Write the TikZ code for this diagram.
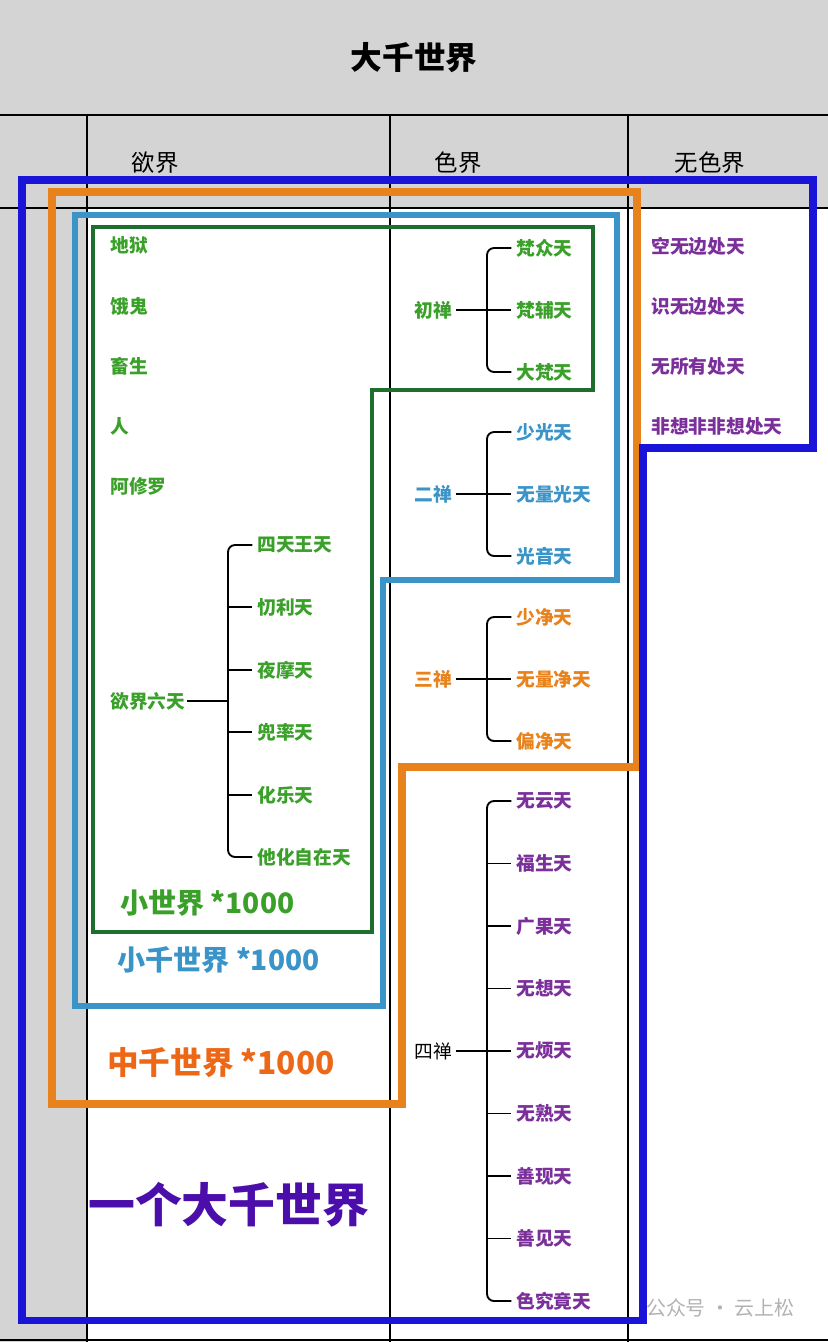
\documentclass[tikz,border=0pt]{standalone}
\usepackage{fontspec}
\setmainfont{Noto Sans CJK SC}
\usetikzlibrary{calc,positioning}
\definecolor{cgreen}{HTML}{3AA02A}
\definecolor{cdkgreen}{HTML}{1E6E2E}
\definecolor{clblue}{HTML}{3A94C8}
\definecolor{corange}{HTML}{E8821C}
\definecolor{cblue}{HTML}{1A14D8}
\definecolor{cpurple}{HTML}{7A2F9A}
\definecolor{cgrey}{HTML}{D4D4D4}
\begin{document}
\begin{tikzpicture}[x=0.3mm,y=-0.3mm,
  item/.style={anchor=west,inner sep=1pt,font=\bfseries\fontsize{16}{16}\selectfont},
  head/.style={font=\fontsize{20}{20}\selectfont},
  branch/.style={line width=1.6pt,rounded corners=6pt},
  stub/.style={line width=1.6pt},
  frame/.style={line join=miter},
  big/.style={anchor=west,font=\bfseries\fontsize{24}{24}\selectfont}]

  % table
  \useasboundingbox (0,0) rectangle (828,1342);
  \fill[cgrey] (0,0) rectangle (828,208);
  \fill[cgrey] (0,208) rectangle (87,1342);
  \draw[line width=1.2pt] (0,115) -- (828,115);
  \draw[line width=1.2pt] (0,208) -- (828,208);
  \draw[line width=1.2pt] (0,1340) -- (828,1340);
  \foreach \x in {87,390,628}
    \draw[line width=1.2pt] (\x,115) -- (\x,1342);
  \node[font=\bfseries\fontsize{27}{27}\selectfont] (title) at (414,58) {大千世界};
  \node[head] (hyu) at (155,163) {欲界};
  \node[head] (hse) at (458,163) {色界};
  \node[head] (hwu) at (710,163) {无色界};

  % 欲界
  \foreach \t/\y [count=\i] in {地狱/245,饿鬼/306,畜生/366,人/426,阿修罗/486}
    \node[item,text=cgreen] (y\i) at (109,\y) {\t};
  \node[item,text=cgreen] (yl) at (109,701) {欲界六天};
  \foreach \t/\y [count=\i] in {四天王天/545,忉利天/607,夜摩天/670,兜率天/732,化乐天/795,他化自在天/857}
    \node[item,text=cgreen] (ys\i) at (256,\y) {\t};
  \draw[branch] ([xshift=-3pt]ys1.west) -| (228,701) |- ([xshift=-3pt]ys6.west);
  \foreach \i in {2,...,5}
    \draw[stub] (228,0 |- ys\i.west) -- ([xshift=-3pt]ys\i.west);
  \draw[stub] (yl.east) -- (228,701);

  % 色界
  \foreach \g/\y/\c/\names in {a/310/cgreen/{梵众天,梵辅天,大梵天},
                               b/494/clblue/{少光天,无量光天,光音天},
                               c/679/corange/{少净天,无量净天,偏净天}}{
    \foreach \t [count=\i] in \names
      \node[item,text=\c] (\g\i) at (515,\y-124+62*\i) {\t};
    \draw[branch] ([xshift=-3pt]\g1.west) -| (487,\y) |- ([xshift=-3pt]\g3.west);
    \draw[stub] (487,\y) -- ([xshift=-3pt]\g2.west);
  }
  \node[item,text=cgreen] (pa) at (413,310) {初禅};
  \node[item,text=clblue] (pb) at (413,494) {二禅};
  \node[item,text=corange] (pc) at (413,679) {三禅};
  \foreach \p in {pa,pb,pc}
    \draw[stub] ([xshift=2pt]\p.east) -- (487,0 |- \p.east);
  \node[item,font=\fontsize{16}{16}\selectfont] (pd) at (413,1051) {四禅};
  \foreach \t [count=\i] in {无云天,福生天,广果天,无想天,无烦天,无熟天,善现天,善见天,色究竟天}
    \node[item,text=cpurple] (d\i) at (515,738.5+62.5*\i) {\t};
  \draw[branch] ([xshift=-3pt]d1.west) -| (487,1051) |- ([xshift=-3pt]d9.west);
  \foreach \i in {2,...,8}
    \draw[stub] (487,0 |- d\i.west) -- ([xshift=-3pt]d\i.west);
  \draw[stub] ([xshift=2pt]pd.east) -- (487,1051);

  % 无色界
  \foreach \t/\y [count=\i] in {空无边处天/246,识无边处天/306,无所有处天/366,非想非非想处天/426}
    \node[item,text=cpurple] (w\i) at (650,\y) {\t};

  % frames
  \draw[frame,cdkgreen,line width=3pt] (93,227) -- (593,227) -- (593,390) -- (372,390) -- (372,932) -- (93,932) -- cycle;
  \draw[frame,clblue,line width=4.5pt] (75,215) -- (617,215) -- (617,580) -- (383,580) -- (383,1006) -- (75,1006) -- cycle;
  \draw[frame,corange,line width=6pt] (52,192) -- (637,192) -- (637,767) -- (402,767) -- (402,1104) -- (52,1104) -- cycle;
  \draw[frame,cblue,line width=6pt] (22,180) -- (813,180) -- (813,448) -- (643,448) -- (643,1320) -- (22,1320) -- cycle;

  \node[big,text=cgreen] (small) at (116,903) {小世界 *1000};
  \node[big,text=clblue] (small1k) at (113,960) {小千世界 *1000};
  \node[big,text=corange!80!red,font=\bfseries\fontsize{27}{27}\selectfont] (mid1k) at (103,1063) {中千世界 *1000};
  \node[big,text=cblue!70!purple,font=\bfseries\fontsize{40}{40}\selectfont] (great1k) at (84,1205) {一个大千世界};

  \node[anchor=west,text=gray!60,font=\fontsize{17}{17}\selectfont] (mark) at (642,1308) {公众号 · 云上松};
\end{tikzpicture}
\end{document}
